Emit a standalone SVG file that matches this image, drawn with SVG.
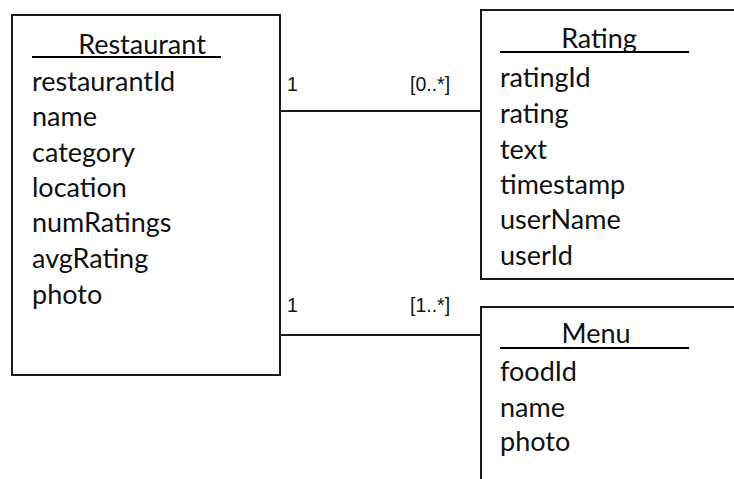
<svg xmlns="http://www.w3.org/2000/svg" width="734" height="479" viewBox="0 0 734 479">
<style>
.box{fill:#fff;stroke:#1a1a1a;stroke-width:2}
.ul{stroke:#000;stroke-width:2}
.t{font-family:Lato,"Open Sans","Liberation Sans",sans-serif;font-size:27px;fill:#111}
.c{stroke:#1a1a1a;stroke-width:2;fill:none}
.m{font-family:"Liberation Sans",Arial,sans-serif;font-size:19.5px;fill:#111}
</style>
<rect width="734" height="479" fill="#fff"/>
<g id="connectors">
<line class="c" x1="280" y1="111" x2="481" y2="111"/>
<line class="c" x1="280" y1="335" x2="481" y2="335"/>
<text class="m" x="287" y="91">1</text>
<text class="m" x="410" y="91">[0..*]</text>
<text class="m" x="287" y="312">1</text>
<text class="m" x="410" y="312">[1..*]</text>
</g>
<g id="restaurant">
<rect class="box" x="12" y="15" width="268" height="360"/>
<text class="t" x="142" y="54" text-anchor="middle">Restaurant</text>
<line class="ul" x1="32" y1="57" x2="221" y2="57"/>
<text class="t" x="32" y="91">restaurantId</text>
<text class="t" x="32" y="126">name</text>
<text class="t" x="32" y="162">category</text>
<text class="t" x="32" y="197">location</text>
<text class="t" x="32" y="232">numRatings</text>
<text class="t" x="32" y="268">avgRating</text>
<text class="t" x="32" y="304">photo</text>
</g>
<g id="rating">
<rect class="box" x="481" y="10" width="260" height="269"/>
<text class="t" x="599" y="48" text-anchor="middle">Rating</text>
<line class="ul" x1="500" y1="52" x2="689" y2="52"/>
<text class="t" x="500" y="87">ratingId</text>
<text class="t" x="500" y="123">rating</text>
<text class="t" x="500" y="159">text</text>
<text class="t" x="500" y="194">timestamp</text>
<text class="t" x="500" y="229">userName</text>
<text class="t" x="500" y="265">userId</text>
</g>
<g id="menu">
<rect class="box" x="481" y="307" width="260" height="200"/>
<text class="t" x="596" y="343" text-anchor="middle">Menu</text>
<line class="ul" x1="500" y1="348" x2="689" y2="348"/>
<text class="t" x="500" y="381">foodId</text>
<text class="t" x="500" y="417">name</text>
<text class="t" x="500" y="451">photo</text>
</g>
</svg>
